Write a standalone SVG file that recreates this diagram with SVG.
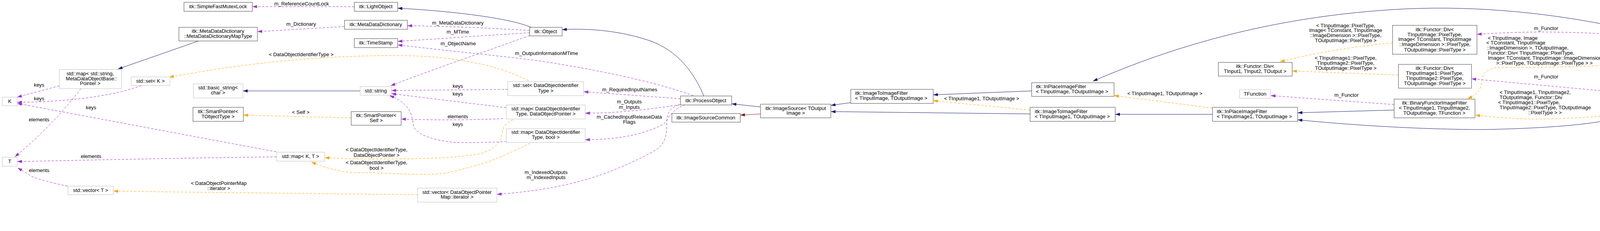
<svg xmlns="http://www.w3.org/2000/svg" width="5451" height="592" viewBox="0 0 5451 592">
<defs>
<style>
text{font-family:"Liberation Sans",Arial,sans-serif;font-size:13px;fill:#000}
.c{text-anchor:middle}
.s{text-anchor:start}
.n{fill:#fff;stroke:#404040;stroke-width:1}
.g{fill:#fff;stroke:#bfbfbf;stroke-width:1}
.h{fill:#bfbfbf;stroke:#404040;stroke-width:1}
.inh{fill:none;stroke:#191970;stroke-width:1}
.red{fill:none;stroke:#8b1a1a;stroke-width:1}
.use{fill:none;stroke:#9a32cd;stroke-width:1;stroke-dasharray:6,4}
.tpl{fill:none;stroke:#ffa500;stroke-width:1;stroke-dasharray:6,4}
</style>
<marker id="aB" markerUnits="userSpaceOnUse" markerWidth="12" markerHeight="8" refX="12" refY="4" orient="auto"><path d="M0,0L12,4L0,8z" fill="#191970"/></marker>
<marker id="aR" markerUnits="userSpaceOnUse" markerWidth="12" markerHeight="8" refX="12" refY="4" orient="auto"><path d="M0,0L12,4L0,8z" fill="#8b1a1a"/></marker>
<marker id="aP" markerUnits="userSpaceOnUse" markerWidth="12" markerHeight="8" refX="12" refY="4" orient="auto"><path d="M0,0L12,4L0,8z" fill="#9a32cd"/></marker>
<marker id="aO" markerUnits="userSpaceOnUse" markerWidth="12" markerHeight="8" refX="12" refY="4" orient="auto"><path d="M0,0L12,4L0,8z" fill="#ffa500"/></marker>
</defs>
<rect width="5451" height="592" fill="#fff"/>
<g id="edges">
<path class="inh" marker-end="url(#aB)" d="M1360,70 C1300,45 1150,28 1018,21"/>
<path class="inh" marker-end="url(#aB)" d="M1802,246 C1770,170 1720,120 1650,100 C1580,78 1500,72 1439,76"/>
<path class="inh" marker-end="url(#aB)" d="M1947,274 L1873,266"/>
<path class="red" marker-end="url(#aR)" d="M1947,292 L1895,295"/>
<path class="inh" marker-end="url(#aB)" d="M2178,263 L2127,270"/>
<path class="inh" marker-end="url(#aB)" d="M2637,292 L2127,286"/>
<path class="inh" marker-end="url(#aB)" d="M2641,233 L2389,243"/>
<path class="tpl" marker-end="url(#aO)" d="M2637,282 L2389,258"/>
<text class="c" x="2513" y="257">&lt; TInputImage1, TOutputImage &gt;</text>
<path class="tpl" marker-end="url(#aO)" d="M3104,277 L2852,245"/>
<text class="c" x="2982" y="244">&lt; TInputImage1, TOutputImage &gt;</text>
<path class="inh" marker-end="url(#aB)" d="M3104,293 L2855,293"/>
<path class="inh" marker-end="url(#aB)" d="M3569,282 L3322,289"/>
<path class="inh" marker-end="url(#aB)" d="M4160,298 C4100,315 4000,328 3800,332 C3600,332 3400,315 3322,307"/>
<path class="inh" marker-end="url(#aB)" d="M4130,67 C3950,30 3750,12 3560,25 C3250,45 3000,120 2798,208"/>
<path class="use" marker-end="url(#aP)" d="M3569,268 L3253,245"/>
<text class="c" x="3447" y="248">m_Functor</text>
<path class="tpl" marker-end="url(#aO)" d="M3580,192 L3308,182"/>
<text class="c" x="3445" y="153">&lt; TInputImage1::PixelType,</text>
<text class="c" x="3445" y="166">TInputImage2::PixelType,</text>
<text class="c" x="3445" y="179">TOutputImage::PixelType &gt;</text>
<path class="tpl" marker-end="url(#aO)" d="M3565,110 C3450,120 3350,140 3277,158"/>
<text class="c" x="3445" y="70">&lt; TInputImage::PixelType,</text>
<text class="c" x="3445" y="82">Image&lt; TConstant, TInputImage</text>
<text class="c" x="3445" y="95">::ImageDimension &gt;::PixelType,</text>
<text class="c" x="3445" y="108">TOutputImage::PixelType &gt;</text>
<path class="use" marker-end="url(#aP)" d="M4123,88 C4000,80 3900,80 3781,88"/>
<text class="c" x="3958" y="77">m_Functor</text>
<path class="use" marker-end="url(#aP)" d="M4137,236 L3767,202"/>
<text class="c" x="3958" y="201">m_Functor</text>
<path class="tpl" marker-end="url(#aO)" d="M4130,164 C4100,170 4000,173 3833,173 C3790,180 3795,200 3792,215 C3790,235 3775,245 3757,253"/>
<text class="s" x="3809" y="102">&lt; TInputImage, Image</text>
<text class="s" x="3805" y="114">&lt; TConstant, TInputImage</text>
<text class="s" x="3806" y="127">::ImageDimension &gt;, TOutputImage,</text>
<text class="s" x="3809" y="140">Functor::Div&lt; TInputImage::PixelType,</text>
<text class="s" x="3809" y="153">Image&lt; TConstant, TInputImage::ImageDimension</text>
<text class="s" x="3830" y="166">&gt;::PixelType, TOutputImage::PixelType &gt; &gt;</text>
<path class="tpl" marker-end="url(#aO)" d="M4137,293 C4080,300 4000,305 3933,305 C3880,305 3820,300 3777,295"/>
<text class="s" x="3839" y="241">&lt; TInputImage1, TInputImage2,</text>
<text class="s" x="3839" y="254">TOutputImage, Functor::Div</text>
<text class="s" x="3835" y="267">&lt; TInputImage1::PixelType,</text>
<text class="s" x="3839" y="280">TInputImage2::PixelType, TOutputImage</text>
<text class="s" x="3912" y="293">::PixelType &gt; &gt;</text>
<path class="inh" marker-end="url(#aB)" d="M4464,218 L4407,229"/>
<path class="inh" marker-end="url(#aB)" d="M4941,144 C4800,135 4600,125 4413,118"/>
<path class="tpl" marker-end="url(#aO)" d="M4941,179 C4850,188 4750,193 4671,193"/>
<text class="s" x="4700" y="152">&lt; TInputImage, Image</text>
<text class="s" x="4697" y="165">&lt; TConstant, TInputImage</text>
<text class="s" x="4697" y="177">::ImageDimension &gt;, TOutputImage &gt;</text>
<path class="inh" marker-end="url(#aB)" d="M5235,157 L5184,157"/>
<path class="use" marker-end="url(#aP)" d="M907,17 L646,17"/>
<text class="c" x="772" y="14">m_ReferenceCountLock</text>
<path class="use" marker-end="url(#aP)" d="M882,68 L659,81"/>
<text class="c" x="771" y="66">m_Dictionary</text>
<path class="inh" marker-end="url(#aB)" d="M508,105 L302,177"/>
<path class="use" marker-end="url(#aP)" d="M1356,78 C1250,72 1150,67 1043,66"/>
<text class="c" x="1172" y="63">m_MetaDataDictionary</text>
<path class="use" marker-end="url(#aP)" d="M1356,84 C1250,90 1120,100 1018,106"/>
<text class="c" x="1172" y="86">m_MTime</text>
<path class="use" marker-end="url(#aP)" d="M1775,245 C1650,200 1450,165 1350,152 C1230,138 1100,125 1018,115"/>
<text class="c" x="1399" y="141">m_OutputInformationMTime</text>
<path class="use" marker-end="url(#aP)" d="M1356,91 C1250,130 1100,180 1000,220"/>
<text class="c" x="1173" y="116">m_ObjectName</text>
<path class="use" marker-end="url(#aP)" d="M1300,229 L1002,232"/>
<text class="c" x="1172" y="225">keys</text>
<path class="use" marker-end="url(#aP)" d="M1296,276 L1002,240"/>
<text class="c" x="1172" y="245">keys</text>
<path class="use" marker-end="url(#aP)" d="M1288,304 C1200,308 1100,308 1027,305"/>
<text class="c" x="1172" y="303">elements</text>
<path class="use" marker-end="url(#aP)" d="M1297,363 C1250,365 1200,366 1167,365 C1100,360 1060,340 1058,320 C1055,285 1040,260 997,245"/>
<text class="c" x="1172" y="323">keys</text>
<path class="use" marker-end="url(#aP)" d="M1742,253 L1494,235"/>
<text class="c" x="1612" y="234">m_RequiredInputNames</text>
<path class="use" marker-end="url(#aP)" d="M1742,268 C1650,282 1580,290 1498,290"/>
<text class="c" x="1611" y="265">m_Outputs</text>
<text class="c" x="1611" y="279">m_Inputs</text>
<path class="use" marker-end="url(#aP)" d="M1755,268 C1720,280 1710,305 1700,317 C1650,345 1580,358 1498,358"/>
<text class="c" x="1611" y="304">m_CachedInputReleaseData</text>
<text class="c" x="1611" y="317">Flags</text>
<path class="use" marker-end="url(#aP)" d="M1737,269 C1710,280 1708,290 1707,320 C1707,370 1690,380 1650,400 C1550,450 1450,485 1272,498"/>
<text class="c" x="1398" y="446">m_IndexedOutputs</text>
<text class="c" x="1398" y="459">m_IndexedInputs</text>
<path class="inh" marker-end="url(#aB)" d="M922,233 L622,233"/>
<path class="tpl" marker-end="url(#aO)" d="M1353,207 C1300,180 1233,157 1100,145 C1000,140 900,143 800,150 C650,160 500,185 433,198"/>
<text class="c" x="771" y="144">&lt; DataObjectIdentifierType &gt;</text>
<path class="use" marker-end="url(#aP)" d="M362,219 C280,250 150,262 44,262"/>
<text class="c" x="100" y="257">keys</text>
<path class="use" marker-end="url(#aP)" d="M152,220 L44,249"/>
<text class="c" x="100" y="222">keys</text>
<path class="use" marker-end="url(#aP)" d="M207,227 C160,290 100,350 38,402"/>
<text class="c" x="100" y="311">elements</text>
<path class="use" marker-end="url(#aP)" d="M707,389 L44,265"/>
<text class="c" x="233" y="280">keys</text>
<path class="use" marker-end="url(#aP)" d="M708,402 C450,405 250,410 44,414"/>
<text class="c" x="233" y="405">elements</text>
<path class="use" marker-end="url(#aP)" d="M173,477 C130,468 100,460 83,453 L45,430"/>
<text class="c" x="100" y="441">elements</text>
<path class="tpl" marker-end="url(#aO)" d="M1313,307 C1290,318 1287,328 1285,345 C1283,363 1270,380 1233,393 C1150,410 1000,407 900,407 C870,406 850,405 831,404"/>
<text class="c" x="964" y="388">&lt; DataObjectIdentifierType,</text>
<text class="c" x="964" y="402">DataObjectPointer &gt;</text>
<path class="tpl" marker-end="url(#aO)" d="M1357,367 C1320,385 1280,405 1233,420 C1180,435 1140,447 1100,447 C1000,447 950,440 910,443 C860,440 820,425 797,415"/>
<text class="c" x="964" y="421">&lt; DataObjectIdentifierType,</text>
<text class="c" x="964" y="435">bool &gt;</text>
<path class="tpl" marker-end="url(#aO)" d="M1069,499 C900,497 700,495 450,492 C380,491 330,490 290,490"/>
<text class="c" x="560" y="474">&lt; DataObjectPointerMap</text>
<text class="c" x="560" y="487">::iterator &gt;</text>
<path class="tpl" marker-end="url(#aO)" d="M899,302 L623,295"/>
<text class="c" x="770" y="292">&lt; Self &gt;</text>
</g>
<g id="SimpleFastMutexLock"><rect class="n" x="471" y="6" width="175" height="23"/><text class="c" x="558" y="21">itk::SimpleFastMutexLock</text></g>
<g id="LightObject"><rect class="n" x="907" y="6" width="111" height="23"/><text class="c" x="962" y="21">itk::LightObject</text></g>
<g id="MetaDataDictionaryMapType"><rect class="n" x="458" y="70" width="201" height="35"/><text class="c" x="558" y="84">itk::MetaDataDictionary</text><text class="c" x="558" y="97">::MetaDataDictionaryMapType</text></g>
<g id="MetaDataDictionary"><rect class="n" x="882" y="52" width="161" height="23"/><text class="c" x="962" y="67">itk::MetaDataDictionary</text></g>
<g id="TimeStamp"><rect class="n" x="907" y="99" width="111" height="23"/><text class="c" x="962" y="114">itk::TimeStamp</text></g>
<g id="Object"><rect class="n" x="1356" y="70" width="83" height="22"/><text class="c" x="1397" y="85">itk::Object</text></g>
<g id="mapMeta"><rect class="g" x="152" y="178" width="159" height="49"/><text class="c" x="231" y="193">std::map&lt; std::string,</text><text class="c" x="234" y="206">MetaDataObjectBase::</text><text class="c" x="231" y="218">Pointer &gt;</text></g>
<g id="setK"><rect class="g" x="336" y="197" width="99" height="22"/><text class="c" x="385" y="212">std::set&lt; K &gt;</text></g>
<g id="K"><rect class="g" x="6" y="249" width="38" height="22"/><text class="c" x="25" y="264">K</text></g>
<g id="T"><rect class="g" x="6" y="403" width="38" height="23"/><text class="c" x="25" y="418">T</text></g>
<g id="vectorT"><rect class="g" x="174" y="477" width="116" height="22"/><text class="c" x="232" y="492">std::vector&lt; T &gt;</text></g>
<g id="basic_string"><rect class="g" x="495" y="215" width="127" height="36"/><text class="c" x="558" y="229">std::basic_string&lt;</text><text class="c" x="558" y="242">char &gt;</text></g>
<g id="SmartPointerTObjectType"><rect class="n" x="494" y="275" width="129" height="36"/><text class="c" x="558" y="290">itk::SmartPointer&lt;</text><text class="c" x="558" y="303">TObjectType &gt;</text></g>
<g id="mapKT"><rect class="g" x="708" y="390" width="123" height="23"/><text class="c" x="769" y="405">std::map&lt; K, T &gt;</text></g>
<g id="string"><rect class="g" x="922" y="222" width="80" height="22"/><text class="c" x="962" y="237">std::string</text></g>
<g id="SmartPointerSelf"><rect class="n" x="899" y="286" width="128" height="35"/><text class="c" x="963" y="300">itk::SmartPointer&lt;</text><text class="c" x="963" y="313">Self &gt;</text></g>
<g id="setDOI"><rect class="g" x="1300" y="209" width="194" height="36"/><text class="c" x="1397" y="223">std::set&lt; DataObjectIdentifier</text><text class="c" x="1397" y="237">Type &gt;</text></g>
<g id="mapDOP"><rect class="g" x="1296" y="269" width="202" height="36"/><text class="c" x="1397" y="283">std::map&lt; DataObjectIdentifier</text><text class="c" x="1397" y="296">Type, DataObjectPointer &gt;</text></g>
<g id="mapBool"><rect class="g" x="1296" y="330" width="202" height="35"/><text class="c" x="1397" y="343">std::map&lt; DataObjectIdentifier</text><text class="c" x="1397" y="356">Type, bool &gt;</text></g>
<g id="vectorIter"><rect class="g" x="1069" y="482" width="203" height="36"/><text class="c" x="1170" y="497">std::vector&lt; DataObjectPointer</text><text class="c" x="1170" y="509">Map::iterator &gt;</text></g>
<g id="ProcessObject"><rect class="n" x="1742" y="246" width="131" height="23"/><text class="c" x="1807" y="262">itk::ProcessObject</text></g>
<g id="ImageSourceCommon"><rect class="n" x="1720" y="291" width="175" height="22"/><text class="c" x="1807" y="306">itk::ImageSourceCommon</text></g>
<g id="ImageSource"><rect class="n" x="1947" y="267" width="180" height="35"/><text class="c" x="2037" y="282">itk::ImageSource&lt; TOutput</text><text class="c" x="2037" y="294">Image &gt;</text></g>
<g id="ImageToImageFilter"><rect class="n" x="2178" y="229" width="211" height="36"/><text class="s" x="2189" y="243">itk::ImageToImageFilter</text><text class="s" x="2189" y="256">&lt; TInputImage, TOutputImage &gt;</text></g>
<g id="InPlaceImageFilter"><rect class="n" x="2641" y="212" width="211" height="35"/><text class="s" x="2652" y="226">itk::InPlaceImageFilter</text><text class="s" x="2652" y="239">&lt; TInputImage, TOutputImage &gt;</text></g>
<g id="ImageToImageFilter1"><rect class="n" x="2637" y="275" width="218" height="36"/><text class="s" x="2649" y="290">itk::ImageToImageFilter</text><text class="s" x="2649" y="303">&lt; TInputImage1, TOutputImage &gt;</text></g>
<g id="InPlaceImageFilter1"><rect class="n" x="3104" y="275" width="218" height="36"/><text class="s" x="3115" y="290">itk::InPlaceImageFilter</text><text class="s" x="3115" y="303">&lt; TInputImage1, TOutputImage &gt;</text></g>
<g id="FunctorDiv"><rect class="n" x="3119" y="160" width="189" height="35"/><text class="c" x="3213" y="174">itk::Functor::Div&lt;</text><text class="c" x="3213" y="187">TInput1, TInput2, TOutput &gt;</text></g>
<g id="TFunction"><rect class="g" x="3173" y="230" width="80" height="22"/><text class="c" x="3213" y="245">TFunction</text></g>
<g id="FunctorDivConst"><rect class="n" x="3565" y="65" width="216" height="74"/><text class="c" x="3673" y="80">itk::Functor::Div&lt;</text><text class="c" x="3673" y="93">TInputImage::PixelType,</text><text class="c" x="3673" y="105">Image&lt; TConstant, TInputImage</text><text class="c" x="3673" y="118">::ImageDimension &gt;::PixelType,</text><text class="c" x="3673" y="132">TOutputImage::PixelType &gt;</text></g>
<g id="FunctorDiv12"><rect class="n" x="3580" y="165" width="187" height="61"/><text class="c" x="3673" y="179">itk::Functor::Div&lt;</text><text class="c" x="3673" y="192">TInputImage1::PixelType,</text><text class="c" x="3673" y="205">TInputImage2::PixelType,</text><text class="c" x="3673" y="218">TOutputImage::PixelType &gt;</text></g>
<g id="BFIF"><rect class="n" x="3569" y="254" width="207" height="48"/><text class="c" x="3672" y="268">itk::BinaryFunctorImageFilter</text><text class="c" x="3672" y="281">&lt; TInputImage1, TInputImage2,</text><text class="c" x="3672" y="294">TOutputImage, TFunction &gt;</text></g>
<g id="BFIFConst"><rect class="n" x="4130" y="64" width="283" height="100"/><text class="s" x="4141" y="78">itk::BinaryFunctorImageFilter</text><text class="s" x="4141" y="91">&lt; TInputImage, Image&lt; TConstant,</text><text class="s" x="4146" y="104">TInputImage::ImageDimension</text><text class="s" x="4145" y="117">&gt;, TOutputImage, Functor::Div</text><text class="s" x="4141" y="130">&lt; TInputImage::PixelType, Image</text><text class="s" x="4141" y="143">&lt; TConstant, TInputImage::ImageDimension</text><text class="s" x="4146" y="156">&gt;::PixelType, TOutputImage::PixelType &gt; &gt;</text></g>
<g id="BFIF12"><rect class="n" x="4137" y="224" width="270" height="74"/><text class="s" x="4148" y="238">itk::BinaryFunctorImageFilter</text><text class="s" x="4148" y="251">&lt; TInputImage1, TInputImage2,</text><text class="s" x="4152" y="264">TOutputImage, Functor::Div</text><text class="s" x="4148" y="277">&lt; TInputImage1::PixelType, TInputImage2</text><text class="s" x="4149" y="290">::PixelType, TOutputImage::PixelType &gt; &gt;</text></g>
<g id="DivideImageFilter12"><rect class="n" x="4464" y="170" width="207" height="48"/><text class="s" x="4475" y="184">itk::DivideImageFilter</text><text class="s" x="4475" y="197">&lt; TInputImage1, TInputImage2,</text><text class="c" x="4567" y="210">TOutputImage &gt;</text></g>
<g id="DivideImageFilterConst"><rect class="n" x="4941" y="127" width="243" height="61"/><text class="s" x="4952" y="141">itk::DivideImageFilter</text><text class="s" x="4952" y="154">&lt; TInputImage, Image&lt;</text><text class="s" x="4957" y="167">TConstant, TInputImage</text><text class="s" x="4952" y="180">::ImageDimension &gt;, TOutputImage &gt;</text></g>
<g id="DivideByConstantImageFilter"><rect class="h" x="5235" y="133" width="210" height="49"/><text class="s" x="5246" y="147">itk::DivideByConstantImage</text><text class="s" x="5246" y="161">Filter&lt; TInputImage, TConstant,</text><text class="c" x="5340" y="174">TOutputImage &gt;</text></g>
</svg>
